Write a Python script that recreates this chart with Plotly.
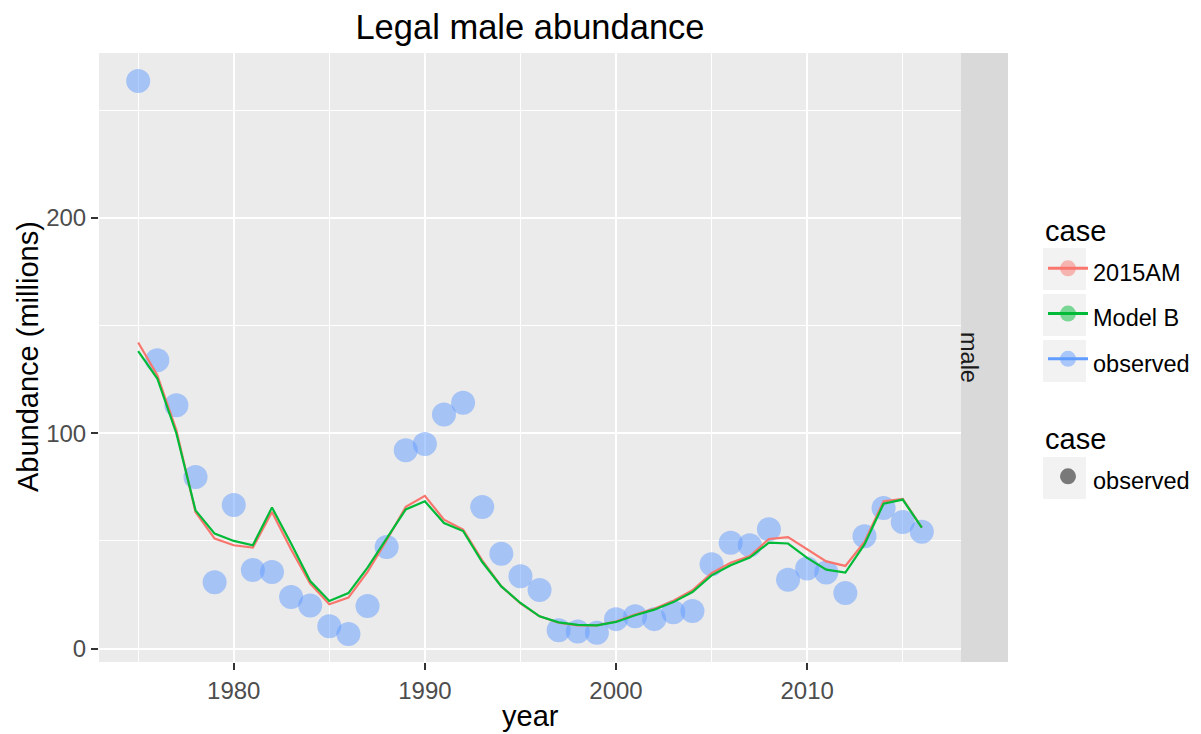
import plotly.graph_objects as go

years = list(range(1975, 2017))

observed = [263.5, 133.9, 113.0, 79.7, 30.8, 66.7, 36.5, 35.6, 24.0, 20.0,
            10.4, 6.8, 19.8, 47.2, 92.1, 95.0, 108.7, 114.1, 65.8, 44.1,
            33.6, 27.2, 8.5, 8.0, 7.4, 13.7, 15.0, 13.7, 16.9, 17.5,
            39.2, 49.2, 48.0, 55.4, 32.0, 37.2, 35.3, 25.8, 52.2, 65.3,
            58.8, 54.3]

am2015 = [142.1, 126.9, 101.4, 63.4, 51.1, 48.0, 46.9, 63.4, 46.0, 30.2,
          20.6, 23.7, 35.6, 50.3, 65.8, 70.9, 59.9, 55.3, 41.0, 28.9,
          21.0, 15.0, 12.0, 10.8, 10.8, 12.6, 15.8, 18.5, 22.2, 27.1,
          35.1, 39.9, 43.0, 50.9, 51.8, 46.1, 40.5, 38.4, 49.5, 68.4,
          69.5, 56.2]

model_b = [138.1, 125.4, 99.9, 64.2, 53.4, 50.0, 48.0, 65.5, 48.8, 31.4,
           22.1, 25.8, 37.6, 51.1, 64.6, 68.4, 58.3, 54.6, 40.2, 28.9,
           21.2, 15.0, 12.2, 11.0, 10.8, 12.4, 15.5, 18.1, 21.6, 26.3,
           34.0, 38.7, 42.3, 49.2, 48.8, 42.1, 36.7, 35.3, 48.4, 67.3,
           69.2, 56.2]

case_labels = ["2015AM", "Model B", "observed"]
case_colors = ["#F8766D", "#00BA38", "#619CFF"]

FONT = "Liberation Sans, Arial, Helvetica, sans-serif"

fig = go.Figure()

# observed points
fig.add_trace(go.Scatter(x=years, y=observed, mode="markers",
                         marker=dict(color="#619CFF", size=24, opacity=0.5, line=dict(width=0)),
                         showlegend=False, hoverinfo="x+y"))
# model lines
fig.add_trace(go.Scatter(x=years, y=am2015, mode="lines",
                         line=dict(color=case_colors[0], width=2.2), showlegend=False))
fig.add_trace(go.Scatter(x=years, y=model_b, mode="lines",
                         line=dict(color=case_colors[1], width=2.2), showlegend=False))

def lab(t):
    return '<span style="font-size:23.5px">' + t + '</span>'

# legend entries
for name, col in zip(case_labels, case_colors):
    fig.add_trace(go.Scatter(x=[None], y=[None], mode="lines+markers", name=lab(name),
                             line=dict(color=col, width=3),
                             marker=dict(color=col, size=16, opacity=0.5),
                             legend="legend"))
fig.add_trace(go.Scatter(x=[None], y=[None], mode="markers", name=lab("observed"),
                         marker=dict(color="#000000", size=16, opacity=0.5),
                         legend="legend2"))

# page is shown with an 8px body margin; layout below is expressed in screen pixels
OFF = 8
W, H = 1201 - OFF, 734 - OFF
P_L, P_R, P_T, P_B = 99, 961, 53, 662      # panel in screen px
S_R = 1008                                  # strip right edge
total_w = S_R - P_L
dom = (P_R - P_L) / total_w

def py(pix):
    return (P_B - pix) / (P_B - P_T)

def px(pix):
    return (pix - P_L) / total_w

shapes = [dict(type="rect", xref="paper", yref="paper", x0=dom, x1=1, y0=0, y1=1,
               fillcolor="#D9D9D9", line=dict(width=0), layer="below")]
# legend key backgrounds
for top in [248, 294, 340, 457]:
    shapes.append(dict(type="rect", xref="paper", yref="paper",
                       x0=px(1043), x1=px(1086), y0=py(top + 42), y1=py(top),
                       fillcolor="#F2F2F2", line=dict(width=0), layer="below"))

fig.update_layout(
    width=W, height=H,
    margin=dict(l=P_L - OFF, r=W - (S_R - OFF), t=P_T - OFF, b=H - (P_B - OFF), autoexpand=False),
    paper_bgcolor="white", plot_bgcolor="#EBEBEB",
    font=dict(family=FONT, color="black"),
    title=dict(text="Legal male abundance", x=px(530), xref="paper", xanchor="center",
               y=1 - (27 - OFF) / H, yref="container", yanchor="middle",
               font=dict(size=34.5, color="black", family=FONT)),
    xaxis=dict(domain=[0, dom], range=[1972.95, 2018.05], automargin=False,
               tickvals=[1980, 1990, 2000, 2010], ticktext=["1980", "1990", "2000", "2010"],
               showgrid=True, gridcolor="white", gridwidth=2,
               minor=dict(tickvals=[1975, 1985, 1995, 2005, 2015], showgrid=True,
                          gridcolor="white", gridwidth=1, ticks=""),
               ticks="outside", ticklen=7, tickwidth=2, tickcolor="#333333",
               tickfont=dict(size=24, color="#4D4D4D"),
               zeroline=False, showline=False),
    yaxis=dict(range=[-6.2, 276.5], automargin=False,
               tickvals=[0, 100, 200], ticktext=["0", "100", "200"],
               showgrid=True, gridcolor="white", gridwidth=2,
               minor=dict(tickvals=[50, 150, 250], showgrid=True,
                          gridcolor="white", gridwidth=1, ticks=""),
               ticks="outside", ticklen=7, tickwidth=2, tickcolor="#333333",
               tickfont=dict(size=24, color="#4D4D4D"),
               zeroline=False, showline=False),
    legend=dict(x=px(1043), y=py(203), xanchor="left", yanchor="top",
                title=dict(text="case", font=dict(size=29, color="black")),
                font=dict(size=32.5, color="black"), bgcolor="rgba(0,0,0,0)",
                traceorder="normal", itemwidth=40, tracegroupgap=0),
    legend2=dict(x=px(1043), y=py(411), xanchor="left", yanchor="top",
                 title=dict(text="case", font=dict(size=29, color="black")),
                 font=dict(size=32.5, color="black"), bgcolor="rgba(0,0,0,0)",
                 itemwidth=40),
    shapes=shapes,
    annotations=[
        dict(text="male", xref="paper", yref="paper", x=(dom + 1) / 2, y=0.5,
             showarrow=False, textangle=90,
             font=dict(size=23.5, color="#1A1A1A", family=FONT)),
        dict(text="year", xref="paper", yref="paper", x=px(530), y=py(716),
             xanchor="center", yanchor="middle", showarrow=False,
             font=dict(size=29, color="black", family=FONT)),
        dict(text="Abundance (millions)", xref="paper", yref="paper", x=px(28), y=py(357),
             xanchor="center", yanchor="middle", showarrow=False, textangle=-90,
             font=dict(size=29, color="black", family=FONT)),
    ],
)

fig.write_html("out.html")
